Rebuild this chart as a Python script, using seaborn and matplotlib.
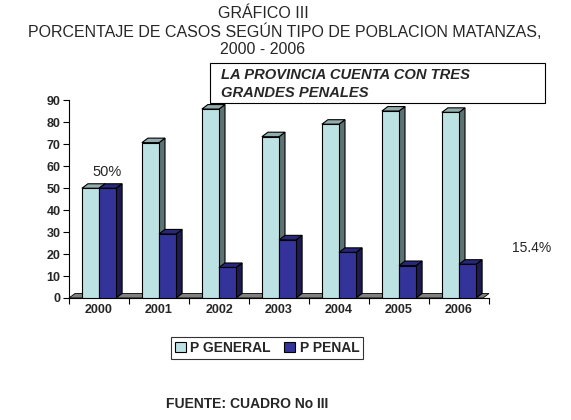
import numpy as np
import pandas as pd
import matplotlib
matplotlib.use("Agg")
import matplotlib.pyplot as plt
from matplotlib.patches import Polygon, Rectangle, Patch
import seaborn as sns

# data
years = ["2000", "2001", "2002", "2003", "2004", "2005", "2006"]
p_general = [50.0, 70.8, 86.1, 73.5, 79.2, 85.2, 84.6]
p_penal = [50.0, 29.2, 13.9, 26.5, 20.8, 14.8, 15.4]
series = ["P GENERAL", "P PENAL"]

front_colors = {"P GENERAL": "#bde2e3", "P PENAL": "#333399"}
top_colors = {"P GENERAL": "#93acad", "P PENAL": "#28287a"}
side_colors = {"P GENERAL": "#5d7272", "P PENAL": "#1c1c52"}

df = pd.DataFrame({
    "year": years * 2,
    "serie": [series[0]] * len(years) + [series[1]] * len(years),
    "value": p_general + p_penal,
})

sns.set_style("white")
plt.rcParams["font.family"] = ["Liberation Sans", "DejaVu Sans"]

W, H = 571, 420
fig = plt.figure(figsize=(W / 100, H / 100), dpi=100)
ax_l, ax_b, ax_w, ax_h = 69, 298, 420, 197.5
ax = fig.add_axes([ax_l / W, (H - ax_b) / H, ax_w / W, ax_h / H])

sns.barplot(data=df, x="year", y="value", hue="serie", palette=front_colors,
            width=0.57, saturation=1, edgecolor="black", linewidth=0.8,
            legend=False, ax=ax)

ax.set_xlim(-0.5, len(years) - 0.5)
ax.set_ylim(0, 90)

# collect bars with their series name
bars = []
for name, cont in zip(series, ax.containers):
    for bar in cont:
        bars.append((bar, name))
bars.sort(key=lambda t: t[0].get_x())

# 3D depth offsets (pixels -> data units)
dx_px, dy_px = 6, 4.5
dx = dx_px * len(years) / ax_w
dy = dy_px * 90 / ax_h

# floor
x0, x1 = ax.get_xlim()
floor = Polygon([(x0, 0), (x1 - dx, 0), (x1, dy), (x0 + dx, dy)], closed=True,
                facecolor="#808080", edgecolor="black", linewidth=0.6,
                zorder=0.5, clip_on=False)
ax.add_patch(floor)

for i, (bar, name) in enumerate(bars):
    bx, bw, bh = bar.get_x(), bar.get_width(), bar.get_height()
    z = 2 + i * 2
    side = Polygon([(bx + bw, 0), (bx + bw + dx, dy), (bx + bw + dx, bh + dy), (bx + bw, bh)],
                   closed=True, facecolor=side_colors[name], edgecolor="black",
                   linewidth=0.8, zorder=z, clip_on=False)
    top = Polygon([(bx, bh), (bx + dx, bh + dy), (bx + bw + dx, bh + dy), (bx + bw, bh)],
                  closed=True, facecolor=top_colors[name], edgecolor="black",
                  linewidth=0.8, zorder=z, clip_on=False)
    ax.add_patch(side)
    ax.add_patch(top)
    bar.set_zorder(z + 1)

# axes styling
for s in ["top", "right"]:
    ax.spines[s].set_visible(False)
for s in ["left", "bottom"]:
    ax.spines[s].set_color("black")
    ax.spines[s].set_linewidth(0.8)
ax.set_xlabel("")
ax.set_ylabel("")
ax.set_yticks(range(0, 91, 10))
ax.tick_params(axis="y", direction="out", length=4, width=0.8, color="black",
               labelsize=9, pad=2, left=True)
ax.set_xticks(np.arange(-0.5, len(years), 1), minor=True)
ax.tick_params(axis="x", which="major", length=0, labelsize=9, pad=4.5)
ax.tick_params(axis="x", which="minor", direction="out", length=4, width=0.8,
               color="black", bottom=True)
for lab in ax.get_xticklabels() + ax.get_yticklabels():
    lab.set_fontweight("bold")

# titles
fig.text(263 / W, 1 - 14 / H, "GRÁFICO III", ha="center", va="center", fontsize=11.5)
fig.text(285 / W, 1 - 32 / H, "PORCENTAJE DE CASOS SEGÚN TIPO DE POBLACION MATANZAS,",
         ha="center", va="center", fontsize=11.5)
fig.text(263 / W, 1 - 49 / H, "2000 - 2006", ha="center", va="center", fontsize=11.5)

# note box
fig.patches.append(Rectangle((210 / W, 1 - 103 / H), 335 / W, 40 / H, transform=fig.transFigure,
                             facecolor="white", edgecolor="black", linewidth=0.8, zorder=50))
fig.text(221 / W, 1 - 75 / H, "LA PROVINCIA CUENTA CON TRES", ha="left", va="center",
         fontsize=10.6, fontweight="bold", fontstyle="italic", zorder=51)
fig.text(221 / W, 1 - 93 / H, "GRANDES PENALES", ha="left", va="center",
         fontsize=10.6, fontweight="bold", fontstyle="italic", zorder=51)

# labels
fig.text(107 / W, 1 - 172 / H, "50%", ha="center", va="center", fontsize=10.5)
fig.text(532 / W, 1 - 248 / H, "15.4%", ha="center", va="center", fontsize=10)

# legend
handles = [Patch(facecolor=front_colors[s], edgecolor="black", linewidth=0.8, label=s) for s in series]
leg = fig.legend(handles=handles, loc="center", bbox_to_anchor=(267 / W, 1 - 348 / H),
                 ncol=2, frameon=True, fancybox=False, handlelength=0.8, handleheight=0.8,
                 handletextpad=0.3, columnspacing=1.0, borderpad=0.3,
                 prop={"weight": "bold", "size": 10})
leg.get_frame().set_edgecolor("black")
leg.get_frame().set_linewidth(0.8)

fig.text(166 / W, 1 - 404 / H, "FUENTE: CUADRO No III", ha="left", va="center",
         fontsize=10, fontweight="bold")

fig.savefig("out.png", dpi=100, facecolor="white")
